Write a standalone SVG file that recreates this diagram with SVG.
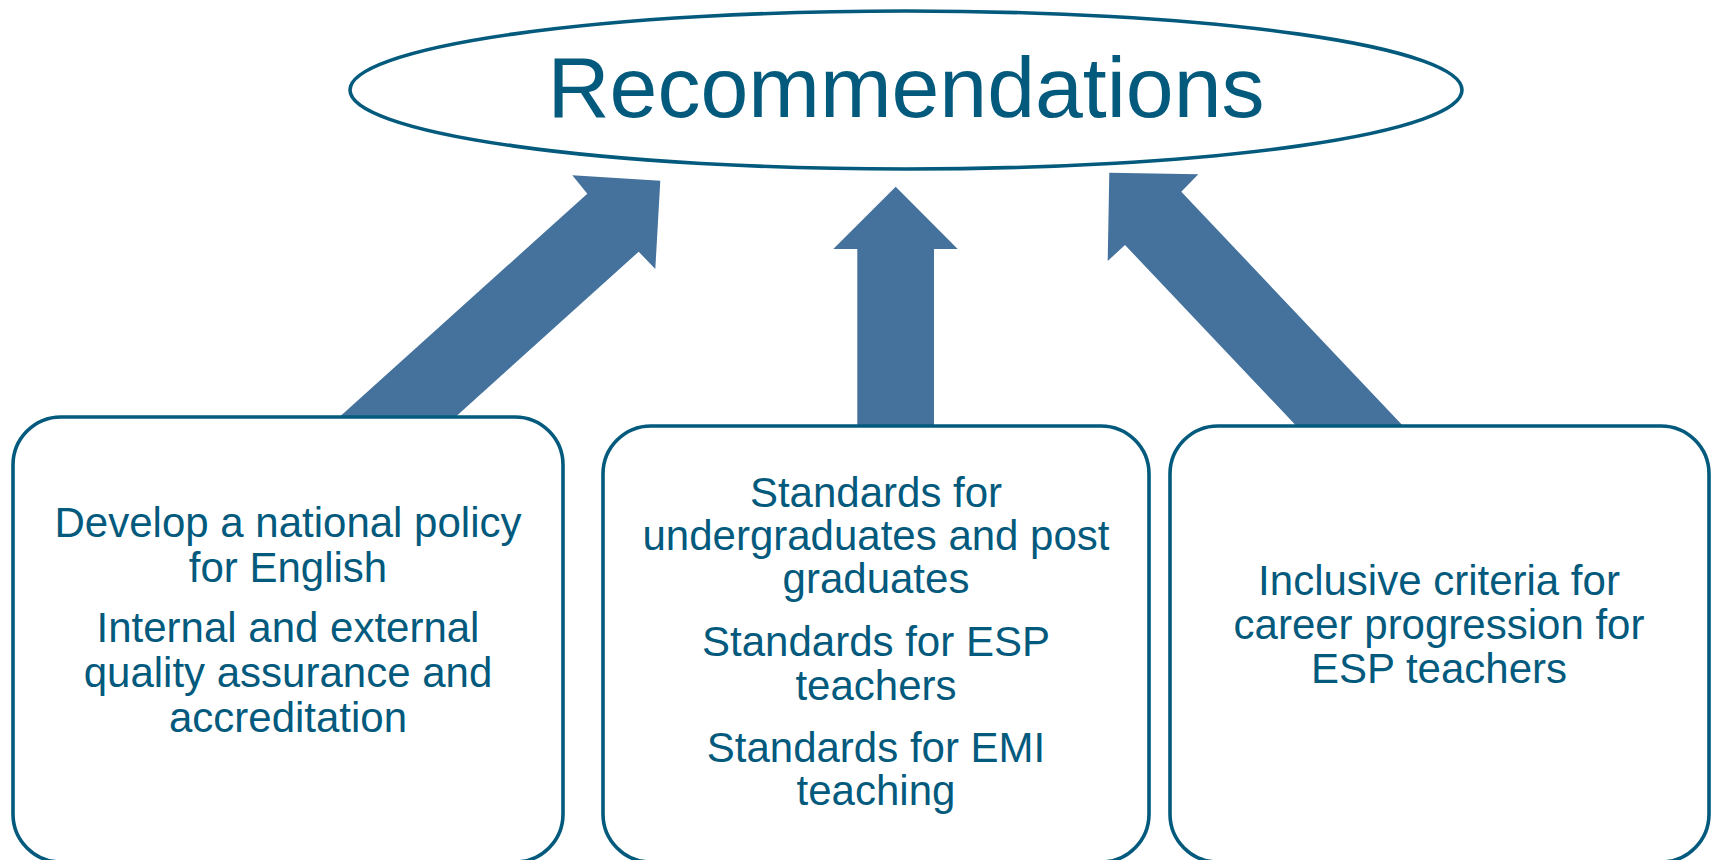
<svg xmlns="http://www.w3.org/2000/svg" width="1715" height="860" viewBox="0 0 1715 860">
<style>
.box{fill:#ffffff;stroke:#035a7d;stroke-width:3.6}
.arr{fill:#44729d}
.t{font-family:"Liberation Sans",Arial,sans-serif;fill:#035a7d;text-anchor:middle}
.b{font-size:42px}
</style>
<rect width="1715" height="860" fill="#ffffff"/>
<g id="connectors">
<polygon class="arr" points="338.3,418 587.3,193.7 572.3,175.3 660.3,180.7 655.3,269 638.7,251.7 454.3,418"/>
<polygon class="arr" points="857.3,428 857.3,249 833.3,249 895.7,186.7 957.7,249 934,249 934,428"/>
<polygon class="arr" points="1298.3,428 1125,245 1107.7,261 1109.3,172.7 1198.3,174.3 1181.3,191.7 1405,428"/>
</g>
<g id="recommendations">
<ellipse cx="906" cy="90" rx="556" ry="79" fill="#ffffff" stroke="#035a7d" stroke-width="3.6"/>
<text class="t" x="906" y="117" font-size="86">Recommendations</text>
</g>
<g id="box1">
<rect class="box" x="13" y="417" width="550" height="445" rx="48"/>
<text class="t b" x="288" y="537">Develop a national policy</text>
<text class="t b" x="288" y="582">for English</text>
<text class="t b" x="288" y="642">Internal and external</text>
<text class="t b" x="288" y="687">quality assurance and</text>
<text class="t b" x="288" y="732">accreditation</text>
</g>
<g id="box2">
<rect class="box" x="603" y="426" width="546" height="436" rx="48"/>
<text class="t b" x="876" y="507">Standards for</text>
<text class="t b" x="876" y="550">undergraduates and post</text>
<text class="t b" x="876" y="593">graduates</text>
<text class="t b" x="876" y="656">Standards for ESP</text>
<text class="t b" x="876" y="700">teachers</text>
<text class="t b" x="876" y="762">Standards for EMI</text>
<text class="t b" x="876" y="805">teaching</text>
</g>
<g id="box3">
<rect class="box" x="1170" y="426" width="539" height="436" rx="48"/>
<text class="t b" x="1439" y="595">Inclusive criteria for</text>
<text class="t b" x="1439" y="639">career progression for</text>
<text class="t b" x="1439" y="683">ESP teachers</text>
</g>
</svg>
